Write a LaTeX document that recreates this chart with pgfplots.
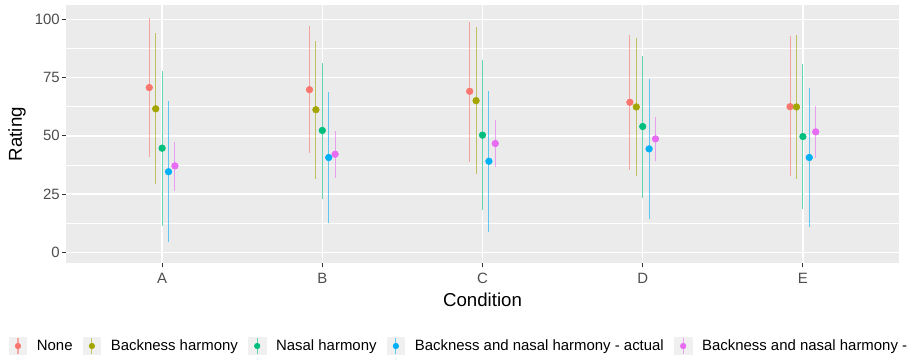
\documentclass[border=0pt]{standalone}
\usepackage{pgfplots}
\pgfplotsset{compat=1.18}
\usepackage{pgfplotstable}
\usepackage{fontspec}
\setmainfont{Liberation Sans}
\definecolor{c1}{HTML}{F8766D}
\definecolor{c2}{HTML}{A3A500}
\definecolor{c3}{HTML}{00BF7D}
\definecolor{c4}{HTML}{00B0F6}
\definecolor{c5}{HTML}{E76BF3}
\definecolor{panel}{HTML}{EBEBEB}
\definecolor{keybg}{HTML}{F0F0F0}
\definecolor{grey30}{HTML}{4D4D4D}
\definecolor{grey20}{HTML}{333333}

\pgfplotstableread{
x y lo hi
1 70.7 40.9 100.4
2 69.8 42.5 97.1
3 69.1 38.9 98.8
4 64.4 35.5 93.1
5 62.5 32.6 92.7
}\tnone
\pgfplotstableread{
x y lo hi
1 61.6 29.2 94.0
2 61.2 31.3 90.8
3 65.1 33.5 96.6
4 62.4 32.6 92.1
5 62.4 31.3 93.2
}\tback
\pgfplotstableread{
x y lo hi
1 44.7 11.4 77.6
2 52.3 23.1 81.2
3 50.3 18.1 82.5
4 54.0 23.4 84.2
5 49.7 18.5 80.7
}\tnasal
\pgfplotstableread{
x y lo hi
1 34.6 4.3 64.9
2 40.7 12.5 68.7
3 39.1 8.8 69.4
4 44.4 14.2 74.4
5 40.7 10.9 70.4
}\tactual
\pgfplotstableread{
x y lo hi
1 37.1 26.4 47.4
2 42.1 31.9 52.2
3 46.7 36.6 57.0
4 48.7 39.1 58.2
5 51.7 40.5 62.9
}\tlast

\pgfplotsset{
  pr/.style={
    only marks, mark=*, mark size=2.5pt, color=#1, mark options={draw=none, fill=#1},
    error bars/.cd, y dir=both, y explicit, error mark=none,
    error bar style={line width=0.8pt, color=#1, opacity=0.6},
    /pgfplots/legend image code/.code={
      \fill[keybg] (0pt,-6.5pt) rectangle (13pt,6.5pt);
      \draw[#1, line width=0.8pt, opacity=0.6] (6.5pt,-6pt)--(6.5pt,6pt);
      \fill[#1] (6.5pt,0pt) circle (2.1pt);
    }
  }
}

\begin{document}
\begin{tikzpicture}
\path[use as bounding box] (0,0) rectangle (681.75pt,270pt);
\begin{axis}[
  at={(49.5pt,72.5pt)}, anchor=south west,
  scale only axis, width=624.75pt, height=193.7pt,
  xmin=0.4, xmax=5.6, ymin=-4.7, ymax=106.1,
  xtick={1,2,3,4,5}, xticklabels={A,B,C,D,E},
  ytick={0,25,50,75,100},
  minor ytick={12.5,37.5,62.5,87.5},
  minor tick length=0pt,
  tick align=outside, tick pos=left, major tick length=3pt,
  tick style={grey20, line width=0.8pt},
  axis line style={draw=none},
  axis background/.style={fill=panel},
  xmajorgrids, ymajorgrids, yminorgrids,
  major grid style={white, line width=1.07pt},
  minor grid style={white, line width=0.53pt},
  /pgf/number format/assume math mode=true,
  ticklabel style={font=\fontsize{11.2}{13}\selectfont, text=grey30, inner sep=0pt},
  xticklabel style={anchor=north, yshift=-4pt},
  yticklabel style={anchor=east, xshift=-1.5pt},
  xlabel={Condition}, ylabel={Rating},
  label style={font=\fontsize{14}{16}\selectfont, text=black},
  xlabel style={at={(axis description cs:0.5,-0.142)}, anchor=center},
  ylabel style={at={(axis description cs:-0.0588,0.5)}, anchor=center, rotate=0},
  legend columns=5,
  legend cell align=left,
  legend style={at={(axis description cs:-0.0735,-0.3202)}, anchor=west,
    draw=none, fill=none, font=\fontsize{11.2}{13}\selectfont,
    nodes={inner sep=0pt},
    /tikz/every odd column/.append style={column sep=7.5pt},
    /tikz/every even column/.append style={column sep=7.8pt}},
]
\addplot+[pr=c1] table[x expr=\thisrow{x}-0.08, y=y, y error plus expr=\thisrow{hi}-\thisrow{y}, y error minus expr=\thisrow{y}-\thisrow{lo}] {\tnone};
\addlegendentry{None}
\addplot+[pr=c2] table[x expr=\thisrow{x}-0.04, y=y, y error plus expr=\thisrow{hi}-\thisrow{y}, y error minus expr=\thisrow{y}-\thisrow{lo}] {\tback};
\addlegendentry{Backness harmony}
\addplot+[pr=c3] table[x expr=\thisrow{x}, y=y, y error plus expr=\thisrow{hi}-\thisrow{y}, y error minus expr=\thisrow{y}-\thisrow{lo}] {\tnasal};
\addlegendentry{Nasal harmony}
\addplot+[pr=c4] table[x expr=\thisrow{x}+0.04, y=y, y error plus expr=\thisrow{hi}-\thisrow{y}, y error minus expr=\thisrow{y}-\thisrow{lo}] {\tactual};
\addlegendentry{Backness and nasal harmony - actual}
\addplot+[pr=c5] table[x expr=\thisrow{x}+0.08, y=y, y error plus expr=\thisrow{hi}-\thisrow{y}, y error minus expr=\thisrow{y}-\thisrow{lo}] {\tlast};
\addlegendentry{Backness and nasal harmony -}
\end{axis}
\end{tikzpicture}
\end{document}
